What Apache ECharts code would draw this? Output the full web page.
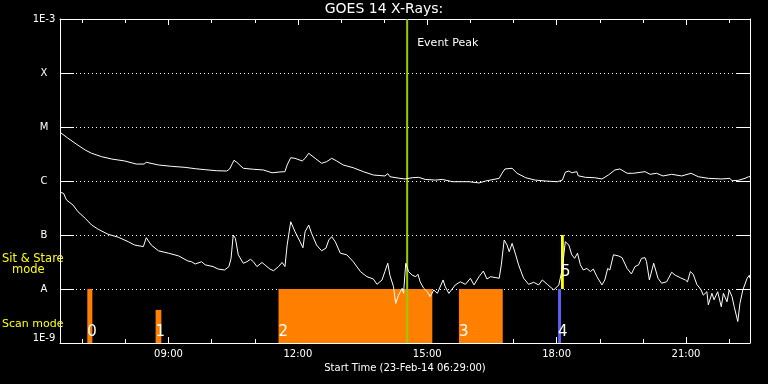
<!DOCTYPE html>
<html><head><meta charset="utf-8">
<script src="https://cdn.jsdelivr.net/npm/echarts@6/dist/echarts.min.js"></script>
<style>html,body{margin:0;padding:0;background:#000}#c{width:768px;height:384px}</style>
</head><body><div id="c"></div>
<script>
// ---------- data ----------
const chartTitle = 'GOES 14 X-Rays:';
const axisTitle = 'Start Time (23-Feb-14 06:29:00)';
const startTime = '06:29';
const endTime = '22:29';
const hourTicks = ['07:00','08:00','09:00','10:00','11:00','12:00','13:00','14:00','15:00','16:00','17:00','18:00','19:00','20:00','21:00','22:00'];
const labelTicks = ['09:00','12:00','15:00','18:00','21:00'];
const yTickValues = [1e-9,1e-8,1e-7,1e-6,1e-5,1e-4,1e-3];
const yTickLabels = ['1E-9','A','B','C','M','X','1E-3'];

// long channel (upper curve)
const longTimes = ['06:29','06:40','06:54','07:04','07:13','07:27','07:41','07:59','08:15','08:26','08:29','08:46','09:04','09:23','09:37','09:51','10:07','10:21','10:25','10:29','10:31','10:35','10:44','10:58','11:12','11:24','11:35','11:42','11:45','11:50','11:56','12:06','12:10','12:15','12:24','12:33','12:40','12:47','12:54','13:03','13:17','13:31','13:45','14:01','14:05','14:08','14:22','14:29','14:39','14:48','14:57','15:11','15:21','15:35','15:58','16:12','16:21','16:40','16:44','16:48','16:58','17:05','17:17','17:30','17:44','18:01','18:08','18:12','18:17','18:21','18:28','18:30','18:40','18:53','19:03','19:12','19:21','19:28','19:38','19:47','20:03','20:10','20:19','20:28','20:40','20:54','21:07','21:17','21:31','21:50','22:01','22:04','22:13','22:22','22:27','22:29'];
const longFlux = [8.0e-6,6.2e-6,4.6e-6,3.75e-6,3.26e-6,2.82e-6,2.55e-6,2.35e-6,2.06e-6,2.06e-6,2.22e-6,1.98e-6,1.87e-6,1.79e-6,1.69e-6,1.62e-6,1.55e-6,1.53e-6,1.67e-6,2.13e-6,2.42e-6,2.22e-6,1.72e-6,1.65e-6,1.60e-6,1.42e-6,1.47e-6,1.49e-6,1.98e-6,2.70e-6,2.63e-6,2.35e-6,2.63e-6,3.26e-6,2.63e-6,2.13e-6,2.28e-6,2.63e-6,2.35e-6,1.98e-6,1.76e-6,1.49e-6,1.29e-6,1.24e-6,1.37e-6,1.20e-6,1.12e-6,1.09e-6,1.15e-6,1.17e-6,1.07e-6,1.04e-6,1.07e-6,0.97e-6,0.97e-6,0.92e-6,1.00e-6,1.12e-6,1.39e-6,1.67e-6,1.72e-6,1.39e-6,1.15e-6,1.04e-6,1.00e-6,0.97e-6,1.04e-6,1.45e-6,1.53e-6,1.42e-6,1.49e-6,1.25e-6,1.17e-6,1.15e-6,1.09e-6,1.29e-6,1.60e-6,1.67e-6,1.39e-6,1.39e-6,1.49e-6,1.33e-6,1.39e-6,1.24e-6,1.33e-6,1.24e-6,1.39e-6,1.20e-6,1.12e-6,1.09e-6,1.12e-6,1.01e-6,1.03e-6,1.12e-6,1.20e-6,1.20e-6];

// short channel (lower curve)
const shortTimes = ['06:29','06:34','06:38','06:47','06:54','07:04','07:13','07:22','07:36','07:50','08:04','08:13','08:25','08:29','08:36','08:46','09:00','09:14','09:27','09:32','09:37','09:46','09:51','10:02','10:09','10:18','10:24','10:27','10:30','10:33','10:37','10:44','10:49','10:54','10:58','11:03','11:10','11:14','11:21','11:26','11:33','11:38','11:42','11:45','11:50','11:56','12:03','12:07','12:10','12:15','12:19','12:26','12:33','12:39','12:43','12:47','12:52','12:59','13:08','13:17','13:27','13:36','13:45','13:50','13:57','14:01','14:05','14:08','14:13','14:16','14:20','14:25','14:27','14:30','14:34','14:39','14:44','14:47','14:50','14:55','15:00','15:04','15:09','15:14','15:22','15:25','15:30','15:39','15:46','15:53','16:00','16:05','16:12','16:18','16:23','16:28','16:40','16:43','16:47','16:51','16:54','16:58','17:03','17:07','17:14','17:21','17:28','17:35','17:40','17:47','17:56','18:03','18:08','18:12','18:17','18:21','18:25','18:29','18:33','18:37','18:42','18:47','18:51','18:56','19:03','19:07','19:11','19:14','19:19','19:26','19:31','19:38','19:44','19:49','19:54','19:58','20:03','20:05','20:09','20:15','20:21','20:26','20:33','20:40','20:45','20:52','20:59','21:02','21:06','21:10','21:15','21:21','21:24','21:29','21:31','21:36','21:39','21:44','21:49','21:52','21:57','22:00','22:04','22:07','22:12','22:15','22:19','22:25','22:28','22:29'];
const shortFlux = [6.2e-7,5.9e-7,4.45e-7,3.6e-7,2.7e-7,2.04e-7,1.53e-7,1.28e-7,1.03e-7,9.1e-8,7.5e-8,6.5e-8,6.1e-8,8.9e-8,6.5e-8,5.1e-8,4.6e-8,4.1e-8,3.3e-8,3.2e-8,2.9e-8,3.2e-8,2.8e-8,2.6e-8,2.34e-8,2.25e-8,2.6e-8,3.7e-8,1.0e-7,8.7e-8,4.3e-8,3.0e-8,3.2e-8,3.55e-8,3.2e-8,2.6e-8,3.1e-8,2.8e-8,2.34e-8,2.18e-8,2.6e-8,3.1e-8,2.6e-8,6.5e-8,1.76e-7,1.15e-7,7.5e-8,5.8e-8,1.15e-7,1.53e-7,1.07e-7,6.5e-8,5.1e-8,5.7e-8,8.1e-8,9.3e-8,7.5e-8,4.6e-8,4.3e-8,3.2e-8,2.1e-8,1.69e-8,1.53e-8,1.22e-8,1.47e-8,2.1e-8,3.0e-8,1.8e-8,1.1e-8,5.4e-9,7.7e-9,1.03e-8,8.3e-9,3.0e-8,2.1e-8,1.8e-8,1.69e-8,1.87e-8,1.36e-8,1.03e-8,8.9e-9,7.2e-9,9.6e-9,8.3e-9,1.47e-8,1.1e-8,8.3e-9,1.19e-8,1.36e-8,1.22e-8,1.58e-8,1.19e-8,1.69e-8,2.15e-8,1.53e-8,1.69e-8,1.58e-8,2.8e-8,8.1e-8,6.5e-8,4.9e-8,7.0e-8,4.3e-8,2.8e-8,1.58e-8,1.22e-8,1.33e-8,1.19e-8,1.47e-8,1.22e-8,9.6e-9,1.19e-8,2.4e-8,7.5e-8,6.5e-8,4.3e-8,3.7e-8,4.6e-8,2.8e-8,2.25e-8,2.4e-8,2.1e-8,2.34e-8,1.69e-8,1.19e-8,1.47e-8,2.4e-8,2.25e-8,4.3e-8,4.1e-8,3.8e-8,2.4e-8,1.9e-8,2.6e-8,2.8e-8,3.7e-8,3.8e-8,3.2e-8,1.47e-8,3.0e-8,1.58e-8,1.28e-8,1.36e-8,2.04e-8,1.8e-8,1.62e-8,1.47e-8,1.36e-8,2.1e-8,1.87e-8,1.22e-8,9.6e-9,7.7e-9,8.9e-9,5.1e-9,8.3e-9,6.3e-9,8.9e-9,4.7e-9,8.3e-9,5.8e-9,9.6e-9,7.2e-9,4.7e-9,2.5e-9,5.4e-9,9.6e-9,1.58e-8,1.8e-8,1.58e-8];

// observation intervals
const barLabels = ['0','1','2','3','4','5'];
const barStart = ['07:07','08:42','11:33','15:44','18:02','18:06'];
const barEnd   = ['07:14','08:50','15:07','16:45','18:06','18:10'];
const barTop   = [1e-8, 4.1e-9, 1e-8, 1e-8, 1e-8, 1e-7];
const barBottom= [1e-9, 1e-9, 1e-9, 1e-9, 1e-9, 1e-8];
const barMode  = ['scan','scan','scan','scan','scan','stare'];

const eventLabel = 'Event Peak';
const eventPeak = '14:32';

// ---------- styles ----------
const barColors = ['#ff8000','#ff8000','#ff8000','#ff8000','#5f5fff','#ffff00'];
const FONT = 'DejaVu Sans';

function toMin(s){ const p = s.split(':').map(Number); return p[0]*60 + p[1]; }
function fmt(v){ const h = Math.floor(v/60), m = Math.round(v%60); return String(h).padStart(2,'0')+':'+String(m).padStart(2,'0'); }

const xMin = toMin(startTime), xMax = toMin(endTime);

function xAx(pos, len, ticks, extra){
  return Object.assign({
    type:'value', position:pos, min:xMin, max:xMax,
    axisLine:{show:false, onZero:false},
    axisTick:{show:true, inside:true, length:len, customValues:ticks.map(toMin), lineStyle:{color:'#fff', width:1}},
    axisLabel:{show:false},
    splitLine:{show:false}
  }, extra||{});
}

const chart = echarts.init(document.getElementById('c'), null, {renderer:'canvas'});
chart.setOption({
  backgroundColor:'#000',
  animation:false,
  title:{text:chartTitle, left:'center', top:2, padding:0,
    textStyle:{color:'#fff', fontSize:14, fontWeight:'normal', fontFamily:FONT}},
  grid:{left:60, right:18, top:19, bottom:41, containLabel:false},
  xAxis:[
    xAx('bottom', 4, hourTicks, {
      axisLine:{show:true, onZero:false, lineStyle:{color:'#fff', width:1}},
      axisLabel:{show:true, customValues:labelTicks.map(toMin), formatter:fmt, color:'#fff', fontFamily:FONT, fontSize:10, margin:6},
      name:axisTitle, nameLocation:'middle', nameGap:18,
      nameTextStyle:{color:'#fff', fontFamily:FONT, fontSize:10, verticalAlign:'top'}
    }),
    xAx('bottom', 6, labelTicks),
    xAx('top', 4, hourTicks, {axisLine:{show:true, onZero:false, lineStyle:{color:'#fff', width:1}}}),
    xAx('top', 6, labelTicks)
  ],
  yAxis:[
    {type:'log', logBase:10, min:1e-9, max:1e-3, splitNumber:6, position:'left',
      axisLine:{show:true, lineStyle:{color:'#fff', width:1}},
      axisTick:{show:true, inside:true, length:14, lineStyle:{color:'#fff', width:1}},
      axisLabel:{show:true, color:'#fff', fontFamily:FONT, fontSize:10, align:'center', margin:16,
        verticalAlignMinLabel:'bottom', verticalAlignMaxLabel:'top',
        formatter:function(v){ const e = Math.round(Math.log10(v)); const i = yTickValues.findIndex(t=>Math.round(Math.log10(t))===e); return i>=0 ? yTickLabels[i] : ''; }},
      splitLine:{show:true, lineStyle:{color:'#fff', width:1, type:[1,3]}}
    },
    {type:'log', logBase:10, min:1e-9, max:1e-3, splitNumber:6, position:'right',
      axisLine:{show:true, lineStyle:{color:'#fff', width:1}},
      axisTick:{show:true, inside:true, length:14, lineStyle:{color:'#fff', width:1}},
      axisLabel:{show:false}, splitLine:{show:false}
    }
  ],
  graphic:[
    {type:'text', x:2, y:259, style:{text:'Sit & Stare', fill:'#ffff00', font:'11.5px '+FONT, verticalAlign:'middle'}},
    {type:'text', x:12, y:270, style:{text:'mode', fill:'#ffff00', font:'11.5px '+FONT, verticalAlign:'middle'}},
    {type:'text', x:2, y:324, style:{text:'Scan mode', fill:'#ffff00', font:'11px '+FONT, verticalAlign:'middle'}}
  ],
  series:[
    {type:'custom', name:'modes', xAxisIndex:0, yAxisIndex:0, z:2, clip:true,
      data: barStart.map((s,i)=>[toMin(s), toMin(barEnd[i]), barTop[i], barBottom[i], i]),
      encode:{x:[0,1], y:[2,3]},
      renderItem:function(params, api){
        const i = api.value(4);
        const p0 = api.coord([api.value(0), api.value(2)]);
        const p1 = api.coord([api.value(1), api.value(3)]);
        return {type:'group', children:[
          {type:'rect', shape:{x:p0[0], y:p0[1], width:p1[0]-p0[0], height:p1[1]-p0[1]}, style:{fill:barColors[i]}},
          {type:'text', x:p0[0], y:p1[1]-(barMode[i]==='stare'?17:11), z2:5,
            style:{text:barLabels[i], fill:'#fff', font:'15px '+FONT, align:'left', verticalAlign:'middle'}}
        ]};
      }
    },
    {type:'custom', name:'event', xAxisIndex:0, yAxisIndex:0, z:3,
      data:[[toMin(eventPeak), 1e-3, 1e-9]],
      encode:{x:0, y:[1,2]},
      renderItem:function(params, api){
        const a = api.coord([api.value(0), api.value(1)]);
        const b = api.coord([api.value(0), api.value(2)]);
        return {type:'group', children:[
          {type:'line', shape:{x1:a[0], y1:a[1], x2:b[0], y2:b[1]}, style:{stroke:'#99cc00', lineWidth:2}},
          {type:'text', x:a[0]+10, y:a[1]+24, style:{text:eventLabel, fill:'#fff', font:'11px '+FONT, verticalAlign:'middle'}}
        ]};
      }
    },
    {type:'line', name:'long', xAxisIndex:0, yAxisIndex:0, z:4, showSymbol:false, silent:true,
      data: longTimes.map((t,i)=>[toMin(t), longFlux[i]]),
      lineStyle:{color:'#fff', width:1}, itemStyle:{color:'#fff'}},
    {type:'line', name:'short', xAxisIndex:0, yAxisIndex:0, z:4, showSymbol:false, silent:true,
      data: shortTimes.map((t,i)=>[toMin(t), shortFlux[i]]),
      lineStyle:{color:'#fff', width:1}, itemStyle:{color:'#fff'}}
  ]
});
</script>
</body></html>
